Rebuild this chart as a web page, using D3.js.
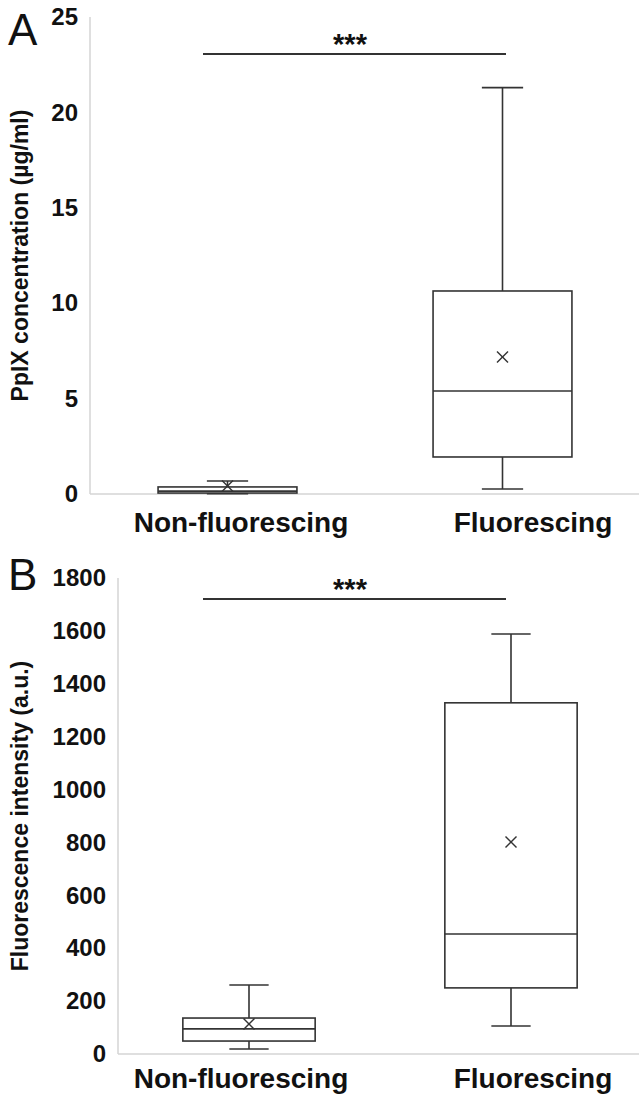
<!DOCTYPE html>
<html>
<head>
<meta charset="utf-8">
<script src="https://cdn.jsdelivr.net/npm/d3@7"></script>
<style>
  body { margin: 0; background: #fff; }
  svg text { font-family: "Liberation Sans", Arial, sans-serif; }
</style>
</head>
<body>
<div id="chart"></div>
<script>
var categories = ["Non-fluorescing", "Fluorescing"];

// panel A: PpIX concentration
var minA = [0.02, 0.26];
var q1A = [0.05, 1.94];
var medA = [0.15, 5.4];
var q3A = [0.37, 10.64];
var maxA = [0.68, 21.3];
var meanA = [0.42, 7.18];
var ticksA = [0, 5, 10, 15, 20, 25];

// panel B: fluorescence intensity
var minB = [19, 106];
var q1B = [49, 250];
var medB = [95, 454];
var q3B = [136, 1328];
var maxB = [261, 1588];
var meanB = [113, 802];
var ticksB = [0, 200, 400, 600, 800, 1000, 1200, 1400, 1600, 1800];

var svg = d3.select("#chart")
    .append("svg")
    .attr("width", 639)
    .attr("height", 1097);

var linecol = "#333";
var axiscol = "#d4d4d4";

function panel(opt) {
    var x = d3.scaleBand().domain(categories).range([opt.left, opt.right]);
    var y = d3.scaleLinear().domain([0, opt.ticks[opt.ticks.length - 1]]).range([opt.bottom, opt.top]);
    var g = svg.append("g");

    var rows = categories.map(function (c, i) {
        return { cat: c, min: opt.min[i], q1: opt.q1[i], med: opt.med[i], q3: opt.q3[i], max: opt.max[i], mean: opt.mean[i] };
    });

    // y axis labels
    var ax = g.append("g")
        .attr("transform", "translate(" + opt.left + ",0)")
        .call(d3.axisLeft(y).tickValues(opt.ticks).tickFormat(d3.format("d")).tickSize(0).tickPadding(12));
    ax.select(".domain").remove();
    ax.selectAll("text")
        .attr("font-size", 24)
        .attr("font-weight", "bold")
        .attr("fill", "#111")
        .style("font-family", "'Liberation Sans', Arial, sans-serif");

    // axis lines
    g.append("line")
        .attr("x1", opt.left).attr("x2", opt.left)
        .attr("y1", y(opt.ticks[opt.ticks.length - 1])).attr("y2", y(0))
        .attr("stroke", axiscol).attr("stroke-width", 1.5);
    g.append("line")
        .attr("x1", opt.left).attr("x2", opt.right)
        .attr("y1", y(0)).attr("y2", y(0))
        .attr("stroke", axiscol).attr("stroke-width", 1.5);

    var bw = x.bandwidth() * 0.505;
    var cw = x.bandwidth() * 0.15;
    function cx(d) { return x(d.cat) + x.bandwidth() / 2; }

    var box = g.selectAll("g.box").data(rows).enter().append("g").attr("class", "box");

    // whiskers
    box.append("line")
        .attr("x1", cx).attr("x2", cx)
        .attr("y1", function (d) { return y(d.max); })
        .attr("y2", function (d) { return y(d.q3); })
        .attr("stroke", linecol).attr("stroke-width", 1.6);
    box.append("line")
        .attr("x1", cx).attr("x2", cx)
        .attr("y1", function (d) { return y(d.q1); })
        .attr("y2", function (d) { return y(d.min); })
        .attr("stroke", linecol).attr("stroke-width", 1.6);
    ["max", "min"].forEach(function (k) {
        box.append("line")
            .attr("x1", function (d) { return cx(d) - cw / 2; })
            .attr("x2", function (d) { return cx(d) + cw / 2; })
            .attr("y1", function (d) { return y(d[k]); })
            .attr("y2", function (d) { return y(d[k]); })
            .attr("stroke", linecol).attr("stroke-width", 1.6);
    });

    box.append("rect")
        .attr("x", function (d) { return cx(d) - bw / 2; })
        .attr("width", bw)
        .attr("y", function (d) { return y(d.q3); })
        .attr("height", function (d) { return y(d.q1) - y(d.q3); })
        .attr("fill", "#fff")
        .attr("stroke", linecol).attr("stroke-width", 1.6);

    box.append("line")
        .attr("x1", function (d) { return cx(d) - bw / 2; })
        .attr("x2", function (d) { return cx(d) + bw / 2; })
        .attr("y1", function (d) { return y(d.med); })
        .attr("y2", function (d) { return y(d.med); })
        .attr("stroke", linecol).attr("stroke-width", 1.6);

    // mean markers
    var s = 5.5;
    [[-1, -1, 1, 1], [-1, 1, 1, -1]].forEach(function (p) {
        box.append("line")
            .attr("x1", function (d) { return cx(d) + p[0] * s; })
            .attr("x2", function (d) { return cx(d) + p[2] * s; })
            .attr("y1", function (d) { return y(d.mean) + p[1] * s; })
            .attr("y2", function (d) { return y(d.mean) + p[3] * s; })
            .attr("stroke", linecol).attr("stroke-width", 1.4);
    });

    // category labels
    g.selectAll("text.cat").data(categories).enter().append("text")
        .attr("class", "cat")
        .attr("x", function (d, i) { return opt.labx[i]; })
        .attr("y", opt.laby)
        .attr("text-anchor", "middle")
        .attr("font-size", 28)
        .attr("font-weight", "bold")
        .attr("fill", "#111")
        .text(function (d) { return d; });

    // y title
    g.append("text")
        .attr("transform", "translate(" + opt.titx + "," + ((opt.top + opt.bottom) / 2) + ") rotate(-90)")
        .attr("text-anchor", "middle")
        .attr("font-size", 23)
        .attr("font-weight", "bold")
        .attr("fill", "#111")
        .text(opt.title);

    // significance bar
    g.append("line")
        .attr("x1", 203).attr("x2", 506)
        .attr("y1", y(opt.sig)).attr("y2", y(opt.sig))
        .attr("stroke", linecol).attr("stroke-width", 2);
    g.append("text")
        .attr("x", 350)
        .attr("y", y(opt.sig) - 0)
        .attr("text-anchor", "middle")
        .attr("font-size", 29)
        .attr("font-weight", "bold")
        .attr("fill", "#111")
        .text("***");

    // panel letter
    g.append("text")
        .attr("x", 8)
        .attr("y", opt.lety)
        .attr("font-size", 44)
        .attr("fill", "#111")
        .text(opt.letter);
}

panel({
    left: 90, right: 640, top: 17, bottom: 494,
    ticks: ticksA, min: minA, q1: q1A, med: medA, q3: q3A, max: maxA, mean: meanA,
    labx: [241, 533], laby: 532, titx: 28, title: "PpIX concentration (µg/ml)",
    sig: 23.06, letter: "A", lety: 45
});

panel({
    left: 118, right: 642, top: 578, bottom: 1054,
    ticks: ticksB, min: minB, q1: q1B, med: medB, q3: q3B, max: maxB, mean: meanB,
    labx: [241, 533], laby: 1088, titx: 28, title: "Fluorescence intensity (a.u.)",
    sig: 1721, letter: "B", lety: 590
});
</script>
</body>
</html>
